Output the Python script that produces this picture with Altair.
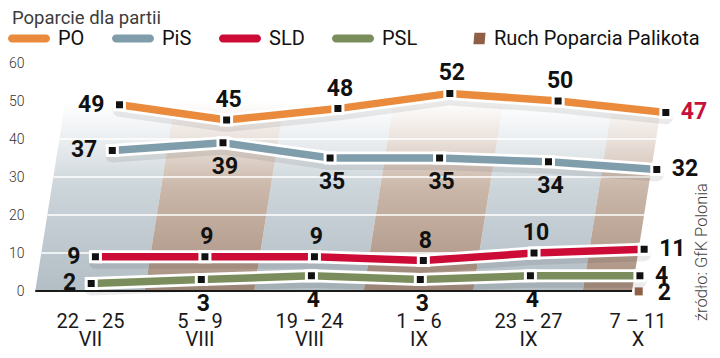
import altair as alt
import pandas as pd

# ---------------- data ----------------
TITLE = "Poparcie dla partii"
SOURCE = "źródło: GfK Polonia"

dates = ["22 – 25", "5 – 9", "19 – 24", "1 – 6", "23 – 27", "7 – 11"]
months = ["VII", "VIII", "VIII", "IX", "IX", "X"]

series = ["PO", "PiS", "SLD", "PSL", "Ruch Poparcia Palikota"]
po = [49, 45, 48, 52, 50, 47]
pis = [37, 39, 35, 35, 34, 32]
sld = [9, 9, 9, 8, 10, 11]
psl = [2, 3, 4, 3, 4, 4]
ruch = [None, None, None, None, None, 2]

y_ticks = [0, 10, 20, 30, 40, 50, 60]
grid_values = [10, 20, 30, 40, 50]

# ---------------- styles ----------------
colors = ["#ea8a3c", "#7f9dab", "#cc0c36", "#7b8d5c", "#8f5f47"]
label_side = {"PO": "above", "PiS": "below", "SLD": "above", "PSL": "below"}
LAST_PO_COLOR = "#c4123a"
SKEW = 0.0055          # perspective lean (index units per percentage point)
BAND_LEFT = -0.5
BAND_RIGHT = 4.95
BAND_TOP = 50

values = dict(zip(series, [po, pis, sld, psl, ruch]))
rows = []
for s in series:
    for i, v in enumerate(values[s]):
        if v is not None:
            rows.append({"series": s, "i": i, "v": v})
df = pd.DataFrame(rows)

band_rows = [{"b": i, "v": v} for i in range(len(dates)) for v in (0, BAND_TOP)]
bands = pd.DataFrame(band_rows)
grid = pd.DataFrame({"v": grid_values})

XS = alt.Scale(domain=[-0.548, 5.388], nice=False, zero=False)
YS = alt.Scale(domain=[0, 60], nice=False, zero=False)

label_expr = "[" + ",".join(f"['{d}','{m}']" for d, m in zip(dates, months)) + "][datum.value]"
XAX = alt.Axis(title=None, values=list(range(len(dates))), labelExpr=label_expr,
               domain=False, ticks=False, grid=False, labelFontSize=20, labelFont="Roboto",
               labelColor="#1a1a1a", labelPadding=20, labelLineHeight=18.5, labelFlush=False,
               labelOverlap=False, labelBound=False, labelBaseline="top")
YAX = alt.Axis(title=None, values=y_ticks, domain=False, ticks=False, grid=False,
               labelFontSize=14, labelFont="Roboto", labelFontWeight=300,
               labelColor="#333333", labelPadding=6)


def X(f):
    return alt.X(f, type="quantitative", scale=XS, axis=XAX)


def Y(f):
    return alt.Y(f, type="quantitative", scale=YS, axis=YAX)


base = alt.Chart(df).transform_calculate(xs=f"datum.i + {SKEW} * datum.v")
main = base.transform_filter(alt.datum.series != series[4])

# background bands
band_base = alt.Chart(bands).transform_calculate(
    xl=f"max(datum.b - 0.5, {BAND_LEFT}) + {SKEW} * datum.v",
    xr=f"min(datum.b + 0.5, {BAND_RIGHT}) + {SKEW} * datum.v",
)


def grad(c0, c1, c2):
    return alt.Gradient(gradient="linear", x1=0, x2=0, y1=0, y2=1, stops=[
        alt.GradientStop(color=c0, offset=0),
        alt.GradientStop(color=c1, offset=0.45),
        alt.GradientStop(color=c2, offset=1)])


band_blue = band_base.transform_filter("datum.b % 2 == 0").mark_area(
    orient="horizontal", color=grad("rgba(214,221,225,0)", "#ccd5da", "#b3bec5")
).encode(y=Y("v"), x=X("xl"), x2="xr:Q", detail="b:N")
band_brown = band_base.transform_filter("datum.b % 2 == 1").mark_area(
    orient="horizontal", color=grad("rgba(210,192,180,0)", "#cbb8aa", "#a99081")
).encode(y=Y("v"), x=X("xl"), x2="xr:Q", detail="b:N")

gridlines = alt.Chart(grid).transform_calculate(
    xl=f"{BAND_LEFT} + {SKEW} * datum.v", xr=f"{BAND_RIGHT} + {SKEW} * datum.v"
).mark_rule(color="white", strokeWidth=1.6).encode(x=X("xl"), x2="xr:Q", y=Y("v"))

baseline = alt.Chart(pd.DataFrame({"v": [0]})).mark_rule(color="#1a1a1a", strokeWidth=2).encode(
    x=alt.X(datum=BAND_LEFT, type="quantitative", scale=XS, axis=XAX),
    x2=alt.datum(BAND_RIGHT), y=Y("v"))

shadow = main.mark_line(color="#000000", opacity=0.08, strokeWidth=14, yOffset=5,
                        strokeCap="round").encode(x=X("xs"), y=Y("v"), detail="series:N", order="i:Q")
casing = main.mark_line(color="white", strokeWidth=13, strokeCap="round").encode(
    x=X("xs"), y=Y("v"), detail="series:N", order="i:Q")

colored = []
for s, c in zip(series[:4], colors[:4]):
    colored.append(base.transform_filter(alt.datum.series == s).mark_line(
        color=c, strokeWidth=7.5).encode(x=X("xs"), y=Y("v"), order="i:Q"))

markers = main.mark_square(size=100, color="#111111", fill="#111111", stroke="white",
                           strokeWidth=3, opacity=1).encode(x=X("xs"), y=Y("v"))
ruch_marker = base.transform_filter(alt.datum.series == series[4]).mark_square(
    size=64, color=colors[4], yOffset=8, opacity=1).encode(x=X("xs"), y=Y("v"))

TXT = dict(font="Roboto", fontWeight="bold", fontSize=23, baseline="middle")
above = [k for k, v in label_side.items() if v == "above"]
below = [k for k, v in label_side.items() if v == "below"]

lab_left = main.transform_filter("datum.i == 0").mark_text(
    align="right", dx=-15, color="#111111", **TXT).encode(x=X("xs"), y=Y("v"), text=alt.Text("v:Q", format="d"))
lab_right = main.transform_filter(f"datum.i == {len(dates) - 1}").mark_text(
    align="left", dx=15, **TXT).encode(
    x=X("xs"), y=Y("v"), text=alt.Text("v:Q", format="d"),
    color=alt.condition(alt.datum.series == "PO", alt.value(LAST_PO_COLOR), alt.value("#111111")))
lab_above = main.transform_filter(f"datum.i > 0 && datum.i < {len(dates) - 1}").transform_filter(
    alt.FieldOneOfPredicate(field="series", oneOf=above)).mark_text(
    align="center", dx=2, dy=-20, color="#111111", **TXT).encode(
    x=X("xs"), y=Y("v"), text=alt.Text("v:Q", format="d"))
lab_below = main.transform_filter(f"datum.i > 0 && datum.i < {len(dates) - 1}").transform_filter(
    alt.FieldOneOfPredicate(field="series", oneOf=below)).mark_text(
    align="center", dx=2, dy=24, color="#111111", **TXT).encode(
    x=X("xs"), y=Y("v"), text=alt.Text("v:Q", format="d"))
lab_ruch = base.transform_filter(alt.datum.series == series[4]).mark_text(
    align="left", dx=19, yOffset=10, color="#111111", **TXT).encode(
    x=X("xs"), y=Y("v"), text=alt.Text("v:Q", format="d"))

# legend (drawn by the library from an invisible layer)
BAR = "M-0.81,-0.19 L0.81,-0.19 A0.19,0.19 0 0 1 0.81,0.19 L-0.81,0.19 A0.19,0.19 0 0 1 -0.81,-0.19 Z"
SQ = "M0.45,-0.27 L0.98,-0.27 L0.93,0.27 L0.40,0.27 Z"
LEG = alt.Legend(orient="none", legendX=-22, legendY=-45.5, direction="horizontal", columns=5,
                 title=None, symbolSize=1764, labelFontSize=20, labelFont="Roboto",
                 labelColor="#111111", columnPadding=26, labelOffset=8, symbolStrokeWidth=0,
                 symbolOpacity=1, labelLimit=0)
legend_layer = base.mark_point(filled=True, opacity=0).encode(
    x=X("xs"), y=Y("v"),
    color=alt.Color("series:N", scale=alt.Scale(domain=series, range=colors), legend=LEG),
    shape=alt.Shape("series:N", scale=alt.Scale(domain=series, range=[BAR] * 4 + [SQ]), legend=LEG))

title = alt.Chart(pd.DataFrame({"t": [TITLE]})).mark_text(
    align="left", baseline="alphabetic", font="Roboto", fontSize=18.5, color="#3c3c3c").encode(
    x=alt.value(-18), y=alt.value(-39), text="t:N")
source = alt.Chart(pd.DataFrame({"t": [SOURCE]})).mark_text(
    align="center", baseline="middle", font="Roboto", fontWeight=300, fontSize=16.5,
    color="#444444", angle=270).encode(x=alt.value(672), y=alt.value(189), text="t:N")

chart = alt.layer(
    band_blue, band_brown, gridlines, baseline, shadow, casing, *colored, markers, ruch_marker,
    lab_left, lab_right, lab_above, lab_below, lab_ruch, legend_layer, title, source
).properties(
    width=650, height=228,
    autosize=alt.AutoSizeParams(type="none"),
    padding={"left": 22, "top": 55, "right": 32, "bottom": 59},
    background="white",
).configure_view(stroke=None)

chart.save("out.html", embed_options={"renderer": "svg", "actions": False})
